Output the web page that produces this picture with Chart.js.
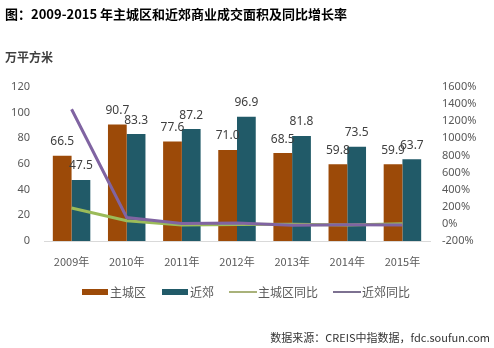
<!DOCTYPE html>
<html>
<head>
<meta charset="utf-8">
<script src="https://cdn.jsdelivr.net/npm/chart.js@4/dist/chart.umd.min.js"></script>
<style>
  html, body { margin: 0; padding: 0; background: #fff; }
  #wrap { position: relative; width: 494px; height: 348px; }
</style>
</head>
<body>
<div id="wrap"><canvas id="c" width="494" height="348"></canvas></div>
<script>
const years = ['2009年', '2010年', '2011年', '2012年', '2013年', '2014年', '2015年'];
const mainArea = [66.5, 90.7, 77.6, 71.0, 68.5, 59.8, 59.9];
const suburbArea = [47.5, 83.3, 87.2, 96.9, 81.8, 73.5, 63.7];
// 同比 (%)
const mainYoy = [185, 36, -14, -8.5, -3.5, -12.7, 0.2];
const suburbYoy = [1340, 75, 4.7, 11, -15.6, -10, -13];

const FONT = '"Noto Sans", "Noto Sans CJK SC", sans-serif';
const CJK = '"Noto Sans CJK SC", "Noto Sans", sans-serif';

const colors = {
  main: '#9c4a08',
  suburb: '#215a68',
  mainYoy: '#9bbb59',
  suburbYoy: '#8064a2'
};

// titles, bar labels, legend and source line
const decorations = {
  id: 'decorations',
  afterDatasetsDraw(chart) {
    const ctx = chart.ctx;
    ctx.save();
    // value labels above the bars
    ctx.fillStyle = '#404040';
    ctx.font = '12px ' + FONT;
    ctx.textAlign = 'center';
    ctx.textBaseline = 'middle';
    [0, 1].forEach(di => {
      const meta = chart.getDatasetMeta(di);
      meta.data.forEach((bar, i) => {
        const v = chart.data.datasets[di].data[i];
        ctx.fillText(v.toFixed(1), bar.x, bar.y - 14);
      });
    });
    ctx.restore();
  },
  afterDraw(chart) {
    const ctx = chart.ctx;
    ctx.save();
    ctx.textBaseline = 'middle';
    ctx.textAlign = 'left';
    ctx.fillStyle = '#000';
    ctx.font = 'bold 13px ' + CJK;
    ctx.fillText('图：2009-2015 年主城区和近郊商业成交面积及同比增长率', 5, 14);

    ctx.fillStyle = '#404040';
    ctx.font = 'bold 12px ' + CJK;
    ctx.fillText('万平方米', 5, 57);

    // legend
    const ly = 292;
    ctx.font = '12px ' + CJK;
    ctx.fillStyle = colors.main;
    ctx.fillRect(82, ly - 3, 26, 6);
    ctx.fillStyle = colors.suburb;
    ctx.fillRect(162, ly - 3, 26, 6);
    ctx.lineWidth = 2;
    ctx.strokeStyle = '#a9b27a';
    ctx.beginPath(); ctx.moveTo(229, ly); ctx.lineTo(257, ly); ctx.stroke();
    ctx.strokeStyle = '#7d7191';
    ctx.beginPath(); ctx.moveTo(333, ly); ctx.lineTo(361, ly); ctx.stroke();
    ctx.fillStyle = '#595959';
    ctx.fillText('主城区', 110, ly);
    ctx.fillText('近郊', 190, ly);
    ctx.fillText('主城区同比', 258, ly);
    ctx.fillText('近郊同比', 362, ly);

    // source
    ctx.textAlign = 'right';
    ctx.fillStyle = '#333';
    ctx.font = '11px ' + CJK;
    ctx.fillText('数据来源：CREIS中指数据，fdc.soufun.com', 490, 338);
    ctx.restore();
  }
};

new Chart(document.getElementById('c'), {
  type: 'bar',
  data: {
    labels: years,
    datasets: [
      { label: '主城区', data: mainArea, backgroundColor: colors.main, yAxisID: 'y', order: 2,
        categoryPercentage: 0.68, barPercentage: 1 },
      { label: '近郊', data: suburbArea, backgroundColor: colors.suburb, yAxisID: 'y', order: 2,
        categoryPercentage: 0.68, barPercentage: 1 },
      { type: 'line', label: '主城区同比', data: mainYoy, borderColor: colors.mainYoy, borderWidth: 3,
        pointRadius: 0, tension: 0, yAxisID: 'y1', order: 1 },
      { type: 'line', label: '近郊同比', data: suburbYoy, borderColor: colors.suburbYoy, borderWidth: 3,
        pointRadius: 0, tension: 0, yAxisID: 'y1', order: 0 }
    ]
  },
  options: {
    responsive: false,
    animation: false,
    layout: { padding: { top: 87, bottom: 74, left: 0, right: 0 } },
    plugins: { legend: { display: false }, tooltip: { enabled: false } },
    scales: {
      x: {
        grid: { display: false, drawTicks: false },
        border: { display: true, color: '#d9d9d9', width: 1 },
        ticks: { color: '#595959', font: { size: 11, family: CJK }, padding: 14 },
        afterFit(s) { s.height = 33; }
      },
      y: {
        position: 'left',
        min: 0, max: 120,
        grid: { display: false, drawTicks: false },
        border: { display: false },
        ticks: { stepSize: 20, color: '#595959', font: { size: 11, family: FONT }, padding: 14 },
        afterFit(s) { s.width = 44; }
      },
      y1: {
        position: 'right',
        min: -200, max: 1600,
        grid: { display: false, drawTicks: false },
        border: { display: false },
        ticks: { stepSize: 200, color: '#595959', font: { size: 11, family: FONT }, padding: 12,
          callback: v => v + '%' },
        afterFit(s) { s.width = 64; }
      }
    }
  },
  plugins: [decorations]
});
</script>
</body>
</html>
